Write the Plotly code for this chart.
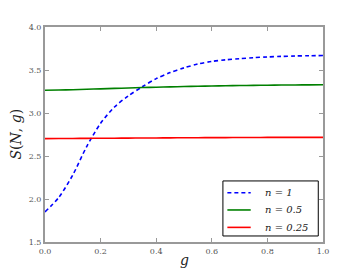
import plotly.graph_objects as go

g = [0.0, 0.05, 0.1, 0.15, 0.2, 0.25, 0.3, 0.35, 0.4, 0.45, 0.5,
     0.55, 0.6, 0.65, 0.7, 0.75, 0.8, 0.85, 0.9, 0.95, 1.0]
s_n1 = [1.85, 2.02, 2.28, 2.61, 2.88, 3.07, 3.20, 3.305, 3.40, 3.47, 3.525,
        3.57, 3.60, 3.618, 3.632, 3.643, 3.652, 3.658, 3.663, 3.666, 3.668]
s_n05 = [3.264, 3.267, 3.271, 3.276, 3.281, 3.286, 3.291, 3.296, 3.300, 3.304, 3.308,
         3.311, 3.314, 3.317, 3.319, 3.321, 3.323, 3.325, 3.326, 3.327, 3.328]
s_n025 = [2.702, 2.703, 2.704, 2.705, 2.706, 2.707, 2.708, 2.709, 2.710, 2.711, 2.712,
          2.713, 2.714, 2.714, 2.715, 2.715, 2.716, 2.716, 2.717, 2.717, 2.717]

labels = ["<i>n</i> = <i>1</i>", "<i>n</i> = <i>0.5</i>", "<i>n</i> = <i>0.25</i>"]
colors = ["#0000ff", "#008000", "#ff0000"]
dashes = ["4px,3px", "solid", "solid"]
xticks = [0.0, 0.2, 0.4, 0.6, 0.8, 1.0]
yticks = [1.5, 2.0, 2.5, 3.0, 3.5, 4.0]
x_title = "<i>g</i>"
y_title = "<i>S</i>(<i>N</i>, <i>g</i>)"

serif = "DejaVu Serif"

fig = go.Figure()
for ys, name, col, dsh in zip([s_n1, s_n05, s_n025], labels, colors, dashes):
    fig.add_trace(go.Scatter(x=g, y=ys, mode="lines", name=name, showlegend=False,
                             line=dict(color=col, width=1.6, dash=dsh, shape="spline", smoothing=0.8),
                             hoverinfo="skip"))

axis_common = dict(showline=True, linecolor="#999999", linewidth=2, mirror="allticks",
                   ticks="inside", ticklen=4, tickcolor="#999999", tickwidth=1,
                   showgrid=False, zeroline=False, automargin=False,
                   tickfont=dict(family=serif, size=8, color="#555555"))

# legend box (paper coordinates of the plot area)
box = dict(x0=0.640, x1=0.983, y0=0.028, y1=0.284)
entry_y = [0.229, 0.149, 0.068]
sample_x = (0.656, 0.740)
text_x = 0.785

shapes = [dict(type="rect", xref="paper", yref="paper", line=dict(color="black", width=1),
               fillcolor="white", layer="above", **box)]
annotations = []
for yy, name, col, dsh in zip(entry_y, labels, colors, dashes):
    shapes.append(dict(type="line", xref="paper", yref="paper", x0=sample_x[0], x1=sample_x[1],
                       y0=yy, y1=yy, layer="above", line=dict(color=col, width=1.6, dash=dsh)))
    annotations.append(dict(text=name, xref="paper", yref="paper", x=text_x, y=yy,
                            xanchor="left", yanchor="middle", showarrow=False,
                            font=dict(family=serif, size=10, color="#222")))

annotations += [
    dict(text=x_title, xref="paper", yref="paper", x=0.5, y=0, yanchor="middle",
         yshift=-18, showarrow=False, font=dict(family=serif, size=14, color="#222")),
    dict(text=y_title, xref="paper", yref="paper", x=0, y=0.5, xanchor="center",
         xshift=-30, textangle=-90, showarrow=False,
         font=dict(family=serif, size=14, color="#222")),
]

fig.update_layout(
    width=360, height=270,
    margin=dict(l=45, r=37, t=27, b=28, autoexpand=False),
    paper_bgcolor="white", plot_bgcolor="white",
    xaxis=dict(range=[0, 1], tickvals=xticks, ticktext=[f"{v:.1f}" for v in xticks],
               **axis_common),
    yaxis=dict(range=[1.5, 4.0], tickvals=yticks, ticktext=[f"{v:.1f}" for v in yticks],
               **axis_common),
    showlegend=False,
    shapes=shapes,
    annotations=annotations,
)

fig.write_html("out.html", config={"displayModeBar": False},
               post_script="document.body.style.margin='0';document.body.style.overflow='hidden';")
